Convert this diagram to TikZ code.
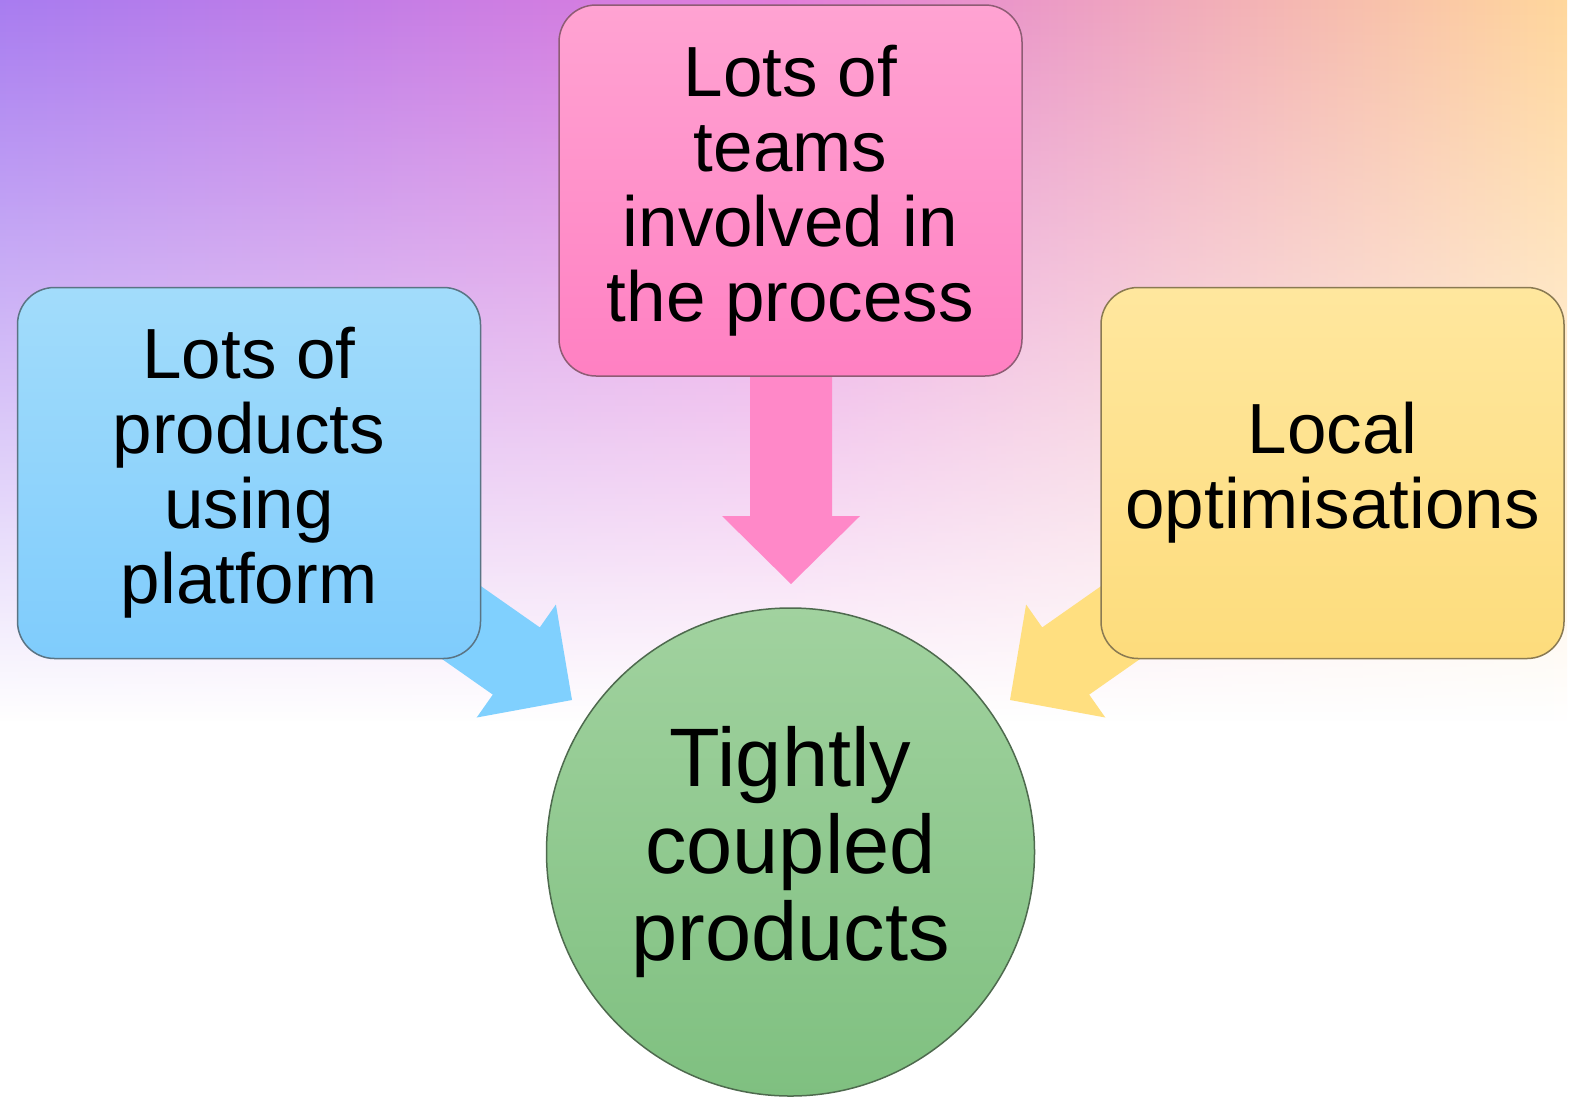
\documentclass[tikz,border=0pt]{standalone}
\usepackage{fontspec}
\setmainfont{Liberation Sans}
\usetikzlibrary{fadings}
\definecolor{bgL}{HTML}{A87CF0}
\definecolor{bgM}{HTML}{E27DDB}
\definecolor{bgR}{HTML}{FFD79C}
\definecolor{blueT}{HTML}{A2DCFB}
\definecolor{blueB}{HTML}{7FCCFC}
\definecolor{blueA}{HTML}{80D0FE}
\definecolor{blueD}{HTML}{5A7484}
\definecolor{pinkT}{HTML}{FFA3D2}
\definecolor{pinkB}{HTML}{FF80C2}
\definecolor{pinkA}{HTML}{FF88C8}
\definecolor{pinkD}{HTML}{8E5C74}
\definecolor{yelT}{HTML}{FFE79E}
\definecolor{yelB}{HTML}{FDDC7C}
\definecolor{yelA}{HTML}{FFDF80}
\definecolor{yelD}{HTML}{8A7A52}
\definecolor{grnT}{HTML}{A1D29F}
\definecolor{grnB}{HTML}{7FC080}
\definecolor{grnD}{HTML}{4E6A4E}
\tikzfading[name=bgfade, top color=transparent!0, middle color=transparent!72, bottom color=transparent!100]
\begin{document}
\begin{tikzpicture}[x=1pt,y=-1pt,
  boxnode/.style={draw, line width=1.5pt, rounded corners=37pt, minimum width=463pt, minimum height=371pt, align=center, inner sep=0pt, font=\fontsize{71}{75}\selectfont, execute at begin node={\rule{0pt}{0.84em}}},
  hubnode/.style={draw, circle, line width=1.5pt, minimum size=488pt, align=center, inner sep=0pt, font=\fontsize{83}{87}\selectfont, execute at begin node={\rule{0pt}{0.84em}}}]
\useasboundingbox (0,0) rectangle (1570,1098);
\fill[white] (0,0) rectangle (1570,1098);
\shade[left color=bgL, right color=bgR, middle color=bgM, path fading=bgfade] (0,0) rectangle (1570,720);
% arrows (behind boxes)
\fill[pinkA] (750,370) -- (832,370) -- (832,516) -- (860,516) -- (791,584) -- (722,516) -- (750,516) -- cycle;
\fill[blueA] (425.1,547.0) -- (539.8,627.4) -- (555.9,604.5) -- (572,700) -- (476.7,717.5) -- (492.8,694.6) -- (378.1,614.2) -- cycle;
\fill[yelA] (1156.9,547.0) -- (1042.2,627.4) -- (1026.1,604.5) -- (1010,700) -- (1105.3,717.5) -- (1089.2,694.6) -- (1203.9,614.2) -- cycle;
% boxes
\node[boxnode, draw=blueD, top color=blueT, bottom color=blueB] (prod) at (249,473) {Lots of\\products\\using\\platform};
\node[boxnode, draw=pinkD, top color=pinkT, bottom color=pinkB] (teams) at (790.5,190.5) {Lots of\\teams\\involved in\\the process};
\node[boxnode, draw=yelD, top color=yelT, bottom color=yelB] (local) at (1332.5,473) {Local\\optimisations};
\node[hubnode, draw=grnD, top color=grnT, bottom color=grnB] (hub) at (790.5,852) {Tightly\\coupled\\products};
\end{tikzpicture}
\end{document}
